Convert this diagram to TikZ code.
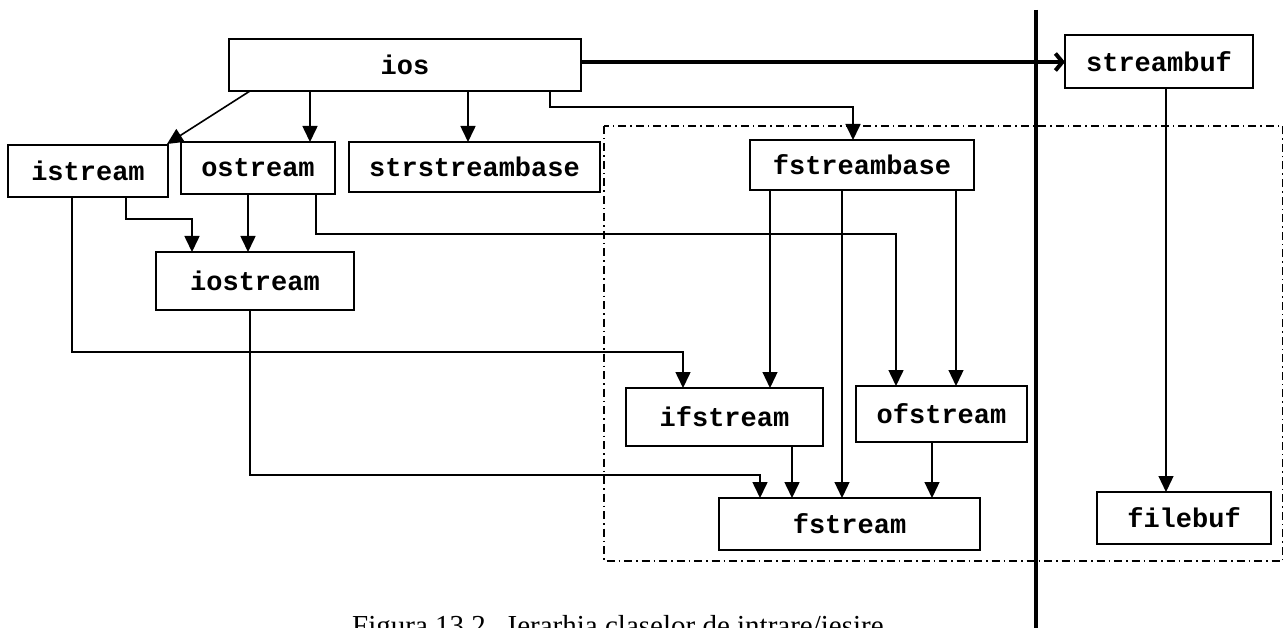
\documentclass[tikz,border=0pt]{standalone}
\usepackage{fontspec}
\setmainfont{Liberation Serif}
\newfontfamily\codefont{Liberation Mono}
\usetikzlibrary{arrows.meta}
\tikzset{
  cls/.style={draw, line width=1.5pt, rectangle, inner sep=0pt, outer sep=0pt,
    font=\codefont\bfseries\fontsize{27}{27}\selectfont},
  arr/.style={line width=1.6pt, -{Triangle[length=16pt,width=15pt]}},
  thinarr/.style={line width=1.3pt, -{Triangle[length=16pt,width=15pt]}},
  bigarr/.style={line width=4pt, -{Straight Barb[length=7pt,width=17pt]}},
  dashdotbox/.style={line width=1.5pt, dash pattern=on 8pt off 4pt on 1.5pt off 4pt},
}
\begin{document}
\begin{tikzpicture}[x=1pt,y=-1pt]
\useasboundingbox (0,0) rectangle (1284,628);
\fill[white] (0,0) rectangle (1284,628);

% dash-dot frame
\draw[dashdotbox] (604,126) rectangle (1282.5,561);

% thick separator
\draw[line width=4pt] (1036,10) -- (1036,628);

% classes
\node[cls, minimum width=352pt, minimum height=52pt] (ios) at (405,65) {ios};
\node[cls, minimum width=160pt, minimum height=52pt] (istream) at (88,171) {istream};
\node[cls, minimum width=154pt, minimum height=52pt] (ostream) at (258,168) {ostream};
\node[cls, minimum width=251pt, minimum height=50pt] (strstreambase) at (474.5,167) {strstreambase};
\node[cls, minimum width=198pt, minimum height=58pt] (iostream) at (255,281) {iostream};
\node[cls, minimum width=224pt, minimum height=50pt] (fstreambase) at (862,165) {fstreambase};
\node[cls, minimum width=188pt, minimum height=53pt] (streambuf) at (1159,61.5) {streambuf};
\node[cls, minimum width=197pt, minimum height=58pt] (ifstream) at (724.5,417) {ifstream};
\node[cls, minimum width=171pt, minimum height=56pt] (ofstream) at (941.5,414) {ofstream};
\node[cls, minimum width=261pt, minimum height=52pt] (fstream) at (849.5,524) {fstream};
\node[cls, minimum width=174pt, minimum height=52pt] (filebuf) at (1184,518) {filebuf};

% connectors from ios
\draw[arr] (ios.south -| 250,0) -- ([xshift=-1pt,yshift=1pt]istream.north east);
\draw[arr] (ios.south -| 310,0) -- (ostream.north -| 310,0);
\draw[arr] (ios.south -| 468,0) -- (strstreambase.north -| 468,0);
\draw[arr] (ios.south -| 550,0) -- (550,107) -- (853,107) -- (fstreambase.north -| 853,0);
\draw[bigarr] (ios.east |- 0,62) -- (streambuf.west |- 0,62);

% to iostream
\draw[arr] (istream.south -| 126,0) -- (126,219) -- (192,219) -- (iostream.north -| 192,0);
\draw[arr] (ostream.south -| 248,0) -- (iostream.north -| 248,0);

% long routes
\draw[arr] (istream.south -| 72,0) -- (72,352) -- (683,352) -- (ifstream.north -| 683,0);
\draw[arr] (ostream.south -| 316,0) -- (316,234) -- (896,234) -- (ofstream.north -| 896,0);
\draw[arr] (iostream.south -| 250,0) -- (250,475) -- (760,475) -- (fstream.north -| 760,0);

% from fstreambase
\draw[thinarr] (fstreambase.south -| 770,0) -- (ifstream.north -| 770,0);
\draw[thinarr] (fstreambase.south -| 842,0) -- (fstream.north -| 842,0);
\draw[thinarr] (fstreambase.south -| 956,0) -- (ofstream.north -| 956,0);

% to fstream
\draw[arr] (ifstream.south -| 792,0) -- (fstream.north -| 792,0);
\draw[thinarr] (ofstream.south -| 932,0) -- (fstream.north -| 932,0);

% streambuf to filebuf
\draw[thinarr] (streambuf.south -| 1166,0) -- (filebuf.north -| 1166,0);

% caption (cut by the lower edge, as in the reference)
\begin{scope}
\clip (0,0) rectangle (1284,628);
\node[anchor=base west, inner sep=0pt, font=\fontsize{29}{29}\selectfont] (caption) at (352,635) {Figura 13.2.\ \ Ierarhia claselor de intrare/iesire};
\end{scope}
\end{tikzpicture}
\end{document}
